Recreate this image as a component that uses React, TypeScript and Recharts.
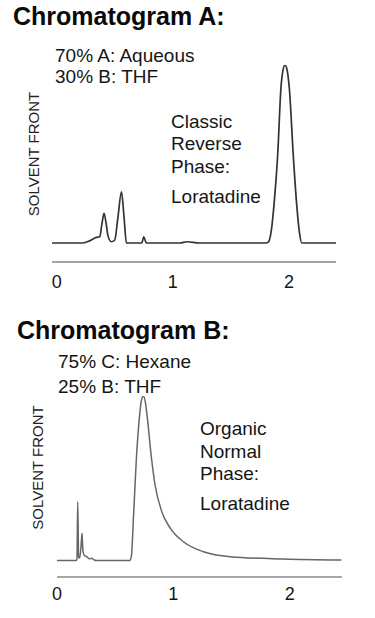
import React from 'react';
import { LineChart, Line, XAxis, YAxis } from 'recharts';

// Chromatogram A (retention time, relative signal 0-100)
const timeA = [
  -0.04, 0.224, 0.284, 0.342, 0.371, 0.388, 0.408, 0.428, 0.442, 0.471,
  0.5, 0.528, 0.558, 0.58, 0.601, 0.733, 0.75, 0.773, 1.06, 1.12,
  1.23, 1.8, 1.822, 1.85, 1.871, 1.903, 1.931, 1.95, 1.966, 1.983,
  2.003, 2.037, 2.067, 2.09, 2.11, 2.405,
];
const signalA = [
  0, 0, 1.2, 3.2, 3.5, 10, 16.6, 10, 4, 0.7,
  1.7, 14.6, 28.8, 14.6, 0, 0, 3.5, 0, 0, 0.7,
  0, 0, 0.5, 8, 21.3, 49.4, 87.1, 97.5, 100, 97.5,
  87.1, 49.4, 21.3, 6, 0, 0,
];

// Chromatogram B
const timeB = [
  0, 0.165, 0.172, 0.178, 0.186, 0.195, 0.206, 0.215, 0.223, 0.235,
  0.256, 0.28, 0.299, 0.32, 0.342, 0.625, 0.64, 0.657, 0.686, 0.708,
  0.725, 0.743, 0.76, 0.777, 0.806, 0.843, 0.901, 0.972, 1.087, 1.259,
  1.489, 1.945, 2.444,
];
const signalB = [
  0, 0, 1, 35.7, 2, 1.5, 8, 16.5, 6, 3,
  2.3, 1, 1.3, 0.3, 0, 0, 3, 25.8, 66.1, 86.6,
  97, 100, 96, 86.6, 66.1, 45.9, 29.7, 19.8, 11.4, 5.3,
  2.3, 0.9, 0.3,
];

const xTicks = [0, 1, 2];

const dataA = timeA.map((t, i) => ({ t, s: signalA[i] }));
const dataB = timeB.map((t, i) => ({ t, s: signalB[i] }));

const FONT = '"Liberation Sans", Arial, Helvetica, sans-serif';

export default function App() {
  return (
    <div style={{ position: 'absolute', left: 0, top: 0, width: 375, height: 618, background: '#fff', fontFamily: FONT }}>
      <div style={{ position: 'absolute', left: 0, top: 0 }}>
        <LineChart width={375} height={300} data={dataA} margin={{ top: 65, right: 39, bottom: 8, left: 52 }}>
          <XAxis
            dataKey="t"
            type="number"
            domain={[-0.04, 2.405]}
            ticks={xTicks}
            allowDataOverflow
            height={30}
            tickLine={false}
            tickMargin={7}
            axisLine={{ stroke: '#858585', strokeWidth: 1.5 }}
            tick={{ fill: '#151515', fontSize: 18, fontFamily: FONT }}
          />
          <YAxis hide domain={[-10.67, 100]} allowDataOverflow />
          <Line type="monotone" dataKey="s" stroke="#333" strokeWidth={1.7} dot={false} isAnimationActive={false} />
        </LineChart>
      </div>
      <div style={{ position: 'absolute', left: 0, top: 300 }}>
        <LineChart width={375} height={318} data={dataB} margin={{ top: 96, right: 33, bottom: 11, left: 57 }}>
          <XAxis
            dataKey="t"
            type="number"
            domain={[0, 2.45]}
            ticks={xTicks}
            allowDataOverflow
            height={30}
            tickLine={false}
            tickMargin={4}
            axisLine={{ stroke: '#8a8a8a', strokeWidth: 1.5 }}
            tick={{ fill: '#151515', fontSize: 18, fontFamily: FONT }}
          />
          <YAxis hide domain={[-10.03, 100]} allowDataOverflow />
          <Line type="monotone" dataKey="s" stroke="#666" strokeWidth={1.5} dot={false} isAnimationActive={false} />
        </LineChart>
      </div>
      <svg width={375} height={618} style={{ position: 'absolute', left: 0, top: 0, pointerEvents: 'none' }} fontFamily={FONT}>
        <text x={13} y={25} fontSize={25} fontWeight="bold" fill="#0a0a0a">Chromatogram A:</text>
        <text x={55} y={62} fontSize={19} fill="#151515">70% A: Aqueous</text>
        <text x={55} y={83} fontSize={19} fill="#151515">30% B: THF</text>
        <text x={171} y={128} fontSize={19} fill="#151515">Classic</text>
        <text x={171} y={150} fontSize={19} fill="#151515">Reverse</text>
        <text x={171} y={173} fontSize={19} fill="#151515">Phase:</text>
        <text x={171} y={203} fontSize={19} fill="#151515">Loratadine</text>
        <text transform="translate(39,154) rotate(-90)" textAnchor="middle" fontSize={15} fill="#222">SOLVENT FRONT</text>

        <text x={17} y={339} fontSize={25} fontWeight="bold" fill="#0a0a0a">Chromatogram B:</text>
        <text x={58} y={368} fontSize={19} fill="#151515">75% C: Hexane</text>
        <text x={58} y={393} fontSize={19} fill="#151515">25% B: THF</text>
        <text x={200} y={435} fontSize={19} fill="#151515">Organic</text>
        <text x={200} y={458} fontSize={19} fill="#151515">Normal</text>
        <text x={200} y={480} fontSize={19} fill="#151515">Phase:</text>
        <text x={200} y={510} fontSize={19} fill="#151515">Loratadine</text>
        <text transform="translate(43,467.5) rotate(-90)" textAnchor="middle" fontSize={15} fill="#222">SOLVENT FRONT</text>
      </svg>
    </div>
  );
}
